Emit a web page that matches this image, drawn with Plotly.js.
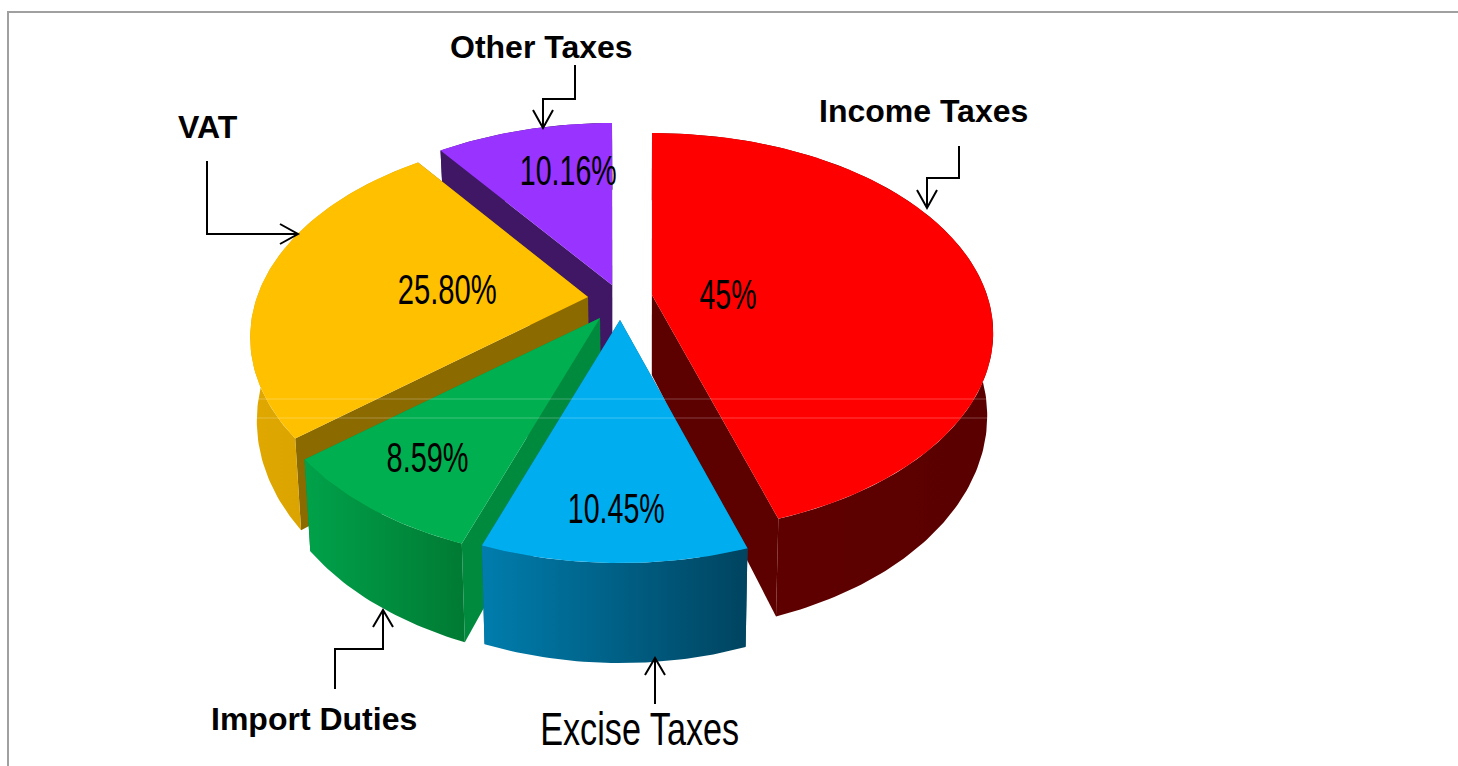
<!DOCTYPE html>
<html>
<head>
<meta charset="utf-8">
<script src="https://cdn.plot.ly/plotly-3.0.1.min.js"></script>
<style>html,body{margin:0;padding:0;background:#fff}#chart{width:1458px;height:766px}</style>
</head>
<body>
<div id="chart"></div>
<script>
// Revenue composition, clockwise from twelve o'clock
const categories = ['Income Taxes', 'Excise Taxes', 'Import Duties', 'VAT', 'Other Taxes'];
const shares = [45, 10.45, 8.59, 25.80, 10.16];
const shareLabels = ['45%', '10.45%', '8.59%', '25.80%', '10.16%'];

// Slice colours: top face, radial cut, outer rim (left and right of the gradient)
const topColors = ['#ff0000', '#00aeef', '#00b050', '#ffc000', '#9933ff'];
const cutColors = ['#5c0000', '#005f85', '#008a3e', '#8b6b00', '#3f1764'];
const rimLeft = ['#620000', '#007dad', '#00a24a', '#e0a800', '#3f1764'];
const rimRight = ['#5a0000', '#004460', '#007a33', '#cf9a00', '#3f1764'];

// Exploded position of each slice tip, and where its percentage sits
const tipX = [652, 620, 600, 588, 612];
const tipY = [295, 320, 318, 297, 285];
const pctX = [728, 616, 427, 447, 568];
const pctY = [294, 508, 457, 289, 170];
const pctWidths = [57, 97, 82, 99, 97];

// Callout label positions and fonts
const calloutX = [923, 639, 314, 208, 541];
const calloutY = [111, 728, 719, 127, 47];
const exciseWidth = 199;
const boldFont = {family: '"Liberation Sans", Arial, sans-serif', size: 32, color: '#000'};
const tallFont = {family: '"Liberation Sans", Arial, sans-serif', size: 47, color: '#000'};
const pctFont = {family: '"Liberation Sans", Arial, sans-serif', size: 42, color: '#000'};

// Perspective of the tilted disc, per slice
const radiusX = [335, 334, 334, 331, 334];
const tilt = [0.19, 0.2, 0.2, 0.2, 0.2];
const farRadius = 162, thickness = 80, squeeze = 0.983, squeezeAbout = 640;

function project(i, theta) {
  const u = Math.sin(theta), v = Math.cos(theta), w = 1 + tilt[i] * v;
  const radiusY = farRadius * (1 + tilt[i]);
  return {x: tipX[i] + radiusX[i] * u / w, y: tipY[i] - radiusY * v / w, w: w};
}
function lower(p) {
  return {x: squeezeAbout + (p.x - squeezeAbout) * squeeze, y: p.y + thickness / p.w};
}
function polygon(pts, extra) {
  return Object.assign({
    x: pts.map(p => p.x).concat(pts[0].x),
    y: pts.map(p => p.y).concat(pts[0].y),
    type: 'scatter', mode: 'lines', fill: 'toself',
    line: {width: 0}, hoverinfo: 'skip'
  }, extra);
}

// Angular span of every slice follows from its share
const total = shares.reduce((a, b) => a + b, 0);
let running = 0;
const spans = shares.map(s => {
  const start = running / total * 2 * Math.PI;
  running += s;
  return [start, running / total * 2 * Math.PI];
});

// Painter's order: back slices first
const paintOrder = [4, 0, 3, 2, 1];
const traces = [];
paintOrder.forEach(i => {
  const [a0, a1] = spans[i];
  const steps = Math.max(12, Math.round((a1 - a0) * 60));
  const arc = [];
  for (let k = 0; k <= steps; k++) arc.push(project(i, a0 + (a1 - a0) * k / steps));
  const tip = {x: tipX[i], y: tipY[i], w: 1};
  const cut = end => polygon([tip, end, lower(end), lower(tip)], {fillcolor: cutColors[i], name: categories[i] + ' cut'});
  traces.push(cut(arc[0]), cut(arc[steps]));
  traces.push(polygon(arc.concat(arc.slice().reverse().map(lower)), {
    name: categories[i] + ' rim',
    fillgradient: {type: 'horizontal', colorscale: [[0, rimLeft[i]], [1, rimRight[i]]]}
  }));
  traces.push(polygon([tip].concat(arc), {fillcolor: topColors[i], name: categories[i]}));
});

// Elbow connectors with open arrowheads
const connectors = [
  'M959,146 V178 H927 V208 M917,190 L927,208 L937,190',
  'M655,704 V658 M645,675 L655,658 L665,675',
  'M335,689 V649 H383 V610 M373,627 L383,610 L393,627',
  'M207,161 V234 H298 M280,224 L298,234 L280,244',
  'M575,65 V99 H543 V128 M533,110 L543,128 L553,110'
];
const shapes = connectors.map(path => ({
  type: 'path', xref: 'x', yref: 'y', path: path, line: {color: '#000', width: 2}
}));
// Frame along the left and top edges
shapes.push({type: 'path', xref: 'x', yref: 'y', path: 'M8,770 V12 H1462', line: {color: '#a0a0a0', width: 2}});
// Two faint scan lines crossing the disc
[399, 418].forEach(y => shapes.push({
  type: 'line', xref: 'x', yref: 'y', x0: 255, x1: 990, y0: y, y1: y,
  line: {color: 'rgba(255,255,255,0.25)', width: 1}
}));

const annotations = [];
categories.forEach((name, i) => {
  const tall = name === 'Excise Taxes';
  annotations.push({
    x: calloutX[i], y: calloutY[i], xref: 'x', yref: 'y',
    text: tall ? name : '<b>' + name + '</b>',
    showarrow: false, xanchor: 'center', yanchor: 'middle',
    font: tall ? tallFont : boldFont
  });
});
shareLabels.forEach((label, i) => annotations.push({
  x: pctX[i], y: pctY[i], xref: 'x', yref: 'y', text: label,
  showarrow: false, xanchor: 'center', yanchor: 'middle', font: pctFont
}));

// Condensed lettering: squeeze these labels to their set widths
const condensed = {'Excise Taxes': exciseWidth};
shareLabels.forEach((label, i) => { condensed[label] = pctWidths[i]; });

Plotly.newPlot('chart', traces, {
  width: 1458, height: 766,
  margin: {l: 0, r: 0, t: 0, b: 0},
  paper_bgcolor: '#fff', plot_bgcolor: '#fff',
  showlegend: false,
  xaxis: {range: [0, 1458], visible: false, fixedrange: true},
  yaxis: {range: [766, 0], visible: false, fixedrange: true},
  shapes: shapes,
  annotations: annotations
}, {displayModeBar: false, staticPlot: true}).then(gd => {
  gd.querySelectorAll('.annotation-text').forEach(node => {
    const width = condensed[node.textContent];
    if (width) {
      node.setAttribute('textLength', width);
      node.setAttribute('lengthAdjust', 'spacingAndGlyphs');
    }
  });
});
</script>
</body>
</html>
